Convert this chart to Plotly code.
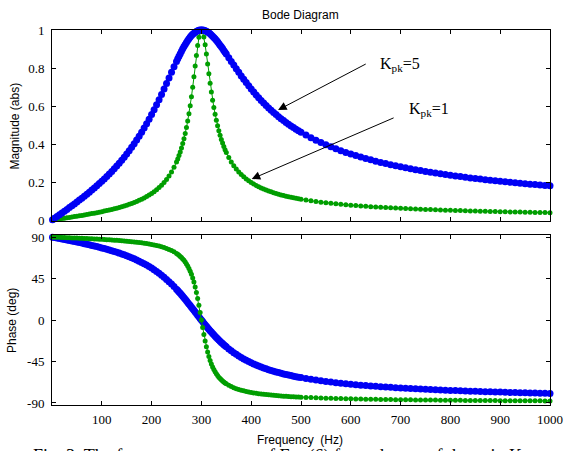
import plotly.graph_objects as go

# ---------------- data ----------------
freq_hz = [1, 5, 10, 15, 20, 25, 30, 35, 40, 45, 50, 55, 60, 65, 70, 75, 80, 85, 90, 95,
           100, 105, 110, 115, 120, 125, 130, 135, 140, 145, 150, 155, 160, 165, 170, 175,
           180, 185, 190, 195, 200, 205, 210, 215, 220, 225, 230, 235, 240, 245, 250,
           252.5, 255, 257.5, 260, 262.5, 265, 267.5, 270, 272.5, 275, 277.5, 280, 282.5,
           285, 287.5, 290, 292.5, 295, 297.5, 300, 302.5, 305, 307.5, 310, 312.5, 315,
           317.5, 320, 322.5, 325, 327.5, 330, 332.5, 335, 337.5, 340, 342.5, 345, 347.5, 350,
           355, 360, 365, 370, 375, 380, 385, 390, 395, 400, 405, 410, 415, 420, 425, 430,
           435, 440, 445, 450, 455, 460, 465, 470, 475, 480, 485, 490, 495, 500,
           510, 520, 530, 540, 550, 560, 570, 580, 590, 600, 610, 620, 630, 640, 650, 660,
           670, 680, 690, 700, 710, 720, 730, 740, 750, 760, 770, 780, 790, 800, 810, 820,
           830, 840, 850, 860, 870, 880, 890, 900, 910, 920, 930, 940, 950, 960, 970, 980,
           990, 1000]

mag_kpk5 = [0.0019, 0.0093, 0.0185, 0.0278, 0.0372, 0.0466, 0.0560, 0.0656, 0.0752, 0.0849,
            0.0948, 0.1048, 0.1150, 0.1253, 0.1358, 0.1466, 0.1575, 0.1687, 0.1802, 0.1919,
            0.2040, 0.2163, 0.2291, 0.2422, 0.2558, 0.2697, 0.2842, 0.2991, 0.3146, 0.3307,
            0.3473, 0.3646, 0.3826, 0.4013, 0.4207, 0.4409, 0.4619, 0.4838, 0.5066, 0.5302,
            0.5547, 0.5801, 0.6064, 0.6334, 0.6612, 0.6897, 0.7186, 0.7478, 0.7771, 0.8061,
            0.8346, 0.8485, 0.8622, 0.8754, 0.8883, 0.9008, 0.9127, 0.9241, 0.9348, 0.9448,
            0.9542, 0.9627, 0.9705, 0.9774, 0.9834, 0.9885, 0.9926, 0.9959, 0.9982, 0.9996,
            1.0000, 0.9996, 0.9982, 0.9961, 0.9931, 0.9894, 0.9849, 0.9798, 0.9740, 0.9677,
            0.9608, 0.9535, 0.9457, 0.9376, 0.9291, 0.9203, 0.9113, 0.9021, 0.8927, 0.8832,
            0.8736, 0.8541, 0.8346, 0.8152, 0.7960, 0.7771, 0.7586, 0.7406, 0.7231, 0.7061,
            0.6897, 0.6738, 0.6585, 0.6437, 0.6295, 0.6158, 0.6026, 0.5900, 0.5778, 0.5660,
            0.5547, 0.5438, 0.5333, 0.5232, 0.5135, 0.5041, 0.4951, 0.4864, 0.4779, 0.4698,
            0.4619, 0.4470, 0.4330, 0.4199, 0.4077, 0.3961, 0.3852, 0.3749, 0.3652, 0.3560,
            0.3473, 0.3391, 0.3312, 0.3237, 0.3166, 0.3098, 0.3033, 0.2971, 0.2912, 0.2855,
            0.2800, 0.2748, 0.2697, 0.2649, 0.2602, 0.2558, 0.2514, 0.2473, 0.2432, 0.2394,
            0.2356, 0.2320, 0.2285, 0.2251, 0.2218, 0.2186, 0.2155, 0.2125, 0.2095, 0.2067,
            0.2040, 0.2013, 0.1987, 0.1961, 0.1937, 0.1913, 0.1889, 0.1867, 0.1844, 0.1823,
            0.1802]

mag_kpk1 = [0.0004, 0.0020, 0.0039, 0.0059, 0.0079, 0.0099, 0.0119, 0.0139, 0.0160, 0.0181,
            0.0202, 0.0223, 0.0245, 0.0267, 0.0290, 0.0314, 0.0338, 0.0362, 0.0388, 0.0414,
            0.0441, 0.0469, 0.0498, 0.0528, 0.0559, 0.0592, 0.0626, 0.0662, 0.0700, 0.0740,
            0.0782, 0.0826, 0.0874, 0.0924, 0.0977, 0.1035, 0.1096, 0.1163, 0.1235, 0.1313,
            0.1398, 0.1491, 0.1594, 0.1708, 0.1835, 0.1977, 0.2138, 0.2320, 0.2529, 0.2772,
            0.3055, 0.3215, 0.3390, 0.3581, 0.3791, 0.4021, 0.4276, 0.4557, 0.4868, 0.5213,
            0.5596, 0.6019, 0.6485, 0.6992, 0.7536, 0.8101, 0.8664, 0.9185, 0.9615, 0.9900,
            1.0000, 0.9902, 0.9627, 0.9220, 0.8734, 0.8215, 0.7696, 0.7198, 0.6734, 0.6307,
            0.5918, 0.5565, 0.5246, 0.4958, 0.4697, 0.4460, 0.4244, 0.4048, 0.3869, 0.3704,
            0.3553, 0.3285, 0.3055, 0.2856, 0.2682, 0.2529, 0.2394, 0.2273, 0.2164, 0.2066,
            0.1977, 0.1896, 0.1822, 0.1754, 0.1691, 0.1633, 0.1579, 0.1529, 0.1482, 0.1439,
            0.1398, 0.1360, 0.1323, 0.1289, 0.1257, 0.1227, 0.1198, 0.1171, 0.1145, 0.1120,
            0.1096, 0.1052, 0.1012, 0.0975, 0.0941, 0.0910, 0.0881, 0.0853, 0.0828, 0.0804,
            0.0782, 0.0761, 0.0741, 0.0723, 0.0705, 0.0688, 0.0673, 0.0657, 0.0643, 0.0630,
            0.0617, 0.0604, 0.0592, 0.0581, 0.0570, 0.0559, 0.0549, 0.0540, 0.0530, 0.0521,
            0.0513, 0.0504, 0.0496, 0.0489, 0.0481, 0.0474, 0.0467, 0.0460, 0.0453, 0.0447,
            0.0441, 0.0435, 0.0429, 0.0423, 0.0418, 0.0412, 0.0407, 0.0402, 0.0397, 0.0392,
            0.0388]

phase_kpk5 = [89.89, 89.47, 88.94, 88.40, 87.87, 87.33, 86.79, 86.24, 85.69, 85.13,
              84.56, 83.98, 83.40, 82.80, 82.19, 81.57, 80.94, 80.29, 79.62, 78.94,
              78.23, 77.51, 76.76, 75.98, 75.18, 74.35, 73.49, 72.59, 71.66, 70.69,
              69.67, 68.62, 67.51, 66.34, 65.12, 63.84, 62.49, 61.07, 59.57, 57.98,
              56.31, 54.54, 52.67, 50.70, 48.61, 46.40, 44.06, 41.60, 39.01, 36.28,
              33.42, 31.95, 30.44, 28.90, 27.34, 25.74, 24.12, 22.47, 20.81, 19.12,
              17.41, 15.69, 13.96, 12.22, 10.47, 8.71, 6.96, 5.21, 3.46, 1.73,
              0.00, -1.71, -3.41, -5.08, -6.73, -8.36, -9.97, -11.54, -13.09, -14.61,
              -16.09, -17.54, -18.96, -20.35, -21.70, -23.03, -24.31, -25.56, -26.78, -27.97,
              -29.12, -31.34, -33.42, -35.40, -37.25, -39.01, -40.66, -42.22, -43.69, -45.08,
              -46.40, -47.64, -48.82, -49.93, -50.99, -51.99, -52.94, -53.85, -54.71, -55.53,
              -56.31, -57.06, -57.77, -58.45, -59.10, -59.73, -60.33, -60.90, -61.45, -61.98,
              -62.49, -63.45, -64.34, -65.17, -65.94, -66.67, -67.35, -67.98, -68.58, -69.14,
              -69.67, -70.18, -70.66, -71.11, -71.54, -71.95, -72.34, -72.72, -73.07, -73.41,
              -73.74, -74.05, -74.35, -74.64, -74.92, -75.18, -75.44, -75.68, -75.92, -76.15,
              -76.37, -76.59, -76.79, -76.99, -77.19, -77.38, -77.56, -77.73, -77.90, -78.07,
              -78.23, -78.39, -78.54, -78.69, -78.83, -78.97, -79.11, -79.24, -79.37, -79.50,
              -79.62]

phase_kpk1 = [89.98, 89.89, 89.78, 89.66, 89.55, 89.43, 89.32, 89.20, 89.09, 88.97,
              88.84, 88.72, 88.60, 88.47, 88.34, 88.20, 88.07, 87.92, 87.78, 87.63,
              87.47, 87.31, 87.15, 86.97, 86.79, 86.61, 86.41, 86.20, 85.99, 85.76,
              85.52, 85.26, 84.99, 84.70, 84.39, 84.06, 83.71, 83.32, 82.91, 82.46,
              81.96, 81.42, 80.83, 80.17, 79.43, 78.60, 77.66, 76.59, 75.35, 73.91,
              72.21, 71.24, 70.18, 69.01, 67.72, 66.29, 64.69, 62.89, 60.87, 58.58,
              55.97, 52.99, 49.57, 45.63, 41.10, 35.89, 29.96, 23.29, 15.95, 8.10,
              0.00, -8.03, -15.70, -22.77, -29.14, -34.77, -39.68, -43.96, -47.67, -50.90,
              -53.72, -56.18, -58.36, -60.28, -61.99, -63.51, -64.89, -66.12, -67.24, -68.26,
              -69.19, -70.82, -72.21, -73.40, -74.44, -75.35, -76.15, -76.86, -77.50, -78.08,
              -78.60, -79.07, -79.50, -79.90, -80.26, -80.60, -80.91, -81.20, -81.48, -81.73,
              -81.96, -82.19, -82.40, -82.59, -82.78, -82.95, -83.12, -83.28, -83.43, -83.57,
              -83.71, -83.96, -84.19, -84.40, -84.60, -84.78, -84.95, -85.11, -85.25, -85.39,
              -85.52, -85.64, -85.75, -85.86, -85.96, -86.05, -86.14, -86.23, -86.31, -86.39,
              -86.47, -86.54, -86.61, -86.67, -86.73, -86.79, -86.85, -86.91, -86.96, -87.01,
              -87.06, -87.11, -87.16, -87.20, -87.24, -87.28, -87.32, -87.36, -87.40, -87.44,
              -87.47, -87.51, -87.54, -87.57, -87.61, -87.64, -87.67, -87.70, -87.72, -87.75,
              -87.78]

freq_ticks = [100, 200, 300, 400, 500, 600, 700, 800, 900, 1000]
freq_tick_labels = ["100", "200", "300", "400", "500", "600", "700", "800", "900", "1000"]
mag_ticks = [0, 0.2, 0.4, 0.6, 0.8, 1]
mag_tick_labels = ["0", "0.2", "0.4", "0.6", "0.8", "1"]
phase_ticks = [-90, -45, 0, 45, 90]
phase_tick_labels = ["-90", "-45", "0", "45", "90"]

# ---------------- style ----------------
BLUE = "rgb(0,0,245)"
GREEN = "rgb(0,158,0)"
SERIF = "Liberation Serif, Times New Roman, serif"
SANS = "Liberation Sans, Arial, sans-serif"

fig = go.Figure()

# magnitude: green first, blue on top (the blue band covers the green apex)
fig.add_trace(go.Scatter(x=freq_hz, y=mag_kpk1, mode="lines+markers", xaxis="x", yaxis="y",
                         line=dict(color=GREEN, width=1), marker=dict(size=5, color=GREEN),
                         cliponaxis=False, hoverinfo="skip"))
fig.add_trace(go.Scatter(x=freq_hz, y=mag_kpk5, mode="lines+markers", xaxis="x", yaxis="y",
                         line=dict(color=BLUE, width=1), marker=dict(size=7, color=BLUE),
                         cliponaxis=False, hoverinfo="skip"))
# phase
fig.add_trace(go.Scatter(x=freq_hz, y=phase_kpk5, mode="lines+markers", xaxis="x2", yaxis="y2",
                         line=dict(color=BLUE, width=1), marker=dict(size=7, color=BLUE),
                         cliponaxis=False, hoverinfo="skip"))
fig.add_trace(go.Scatter(x=freq_hz, y=phase_kpk1, mode="lines+markers", xaxis="x2", yaxis="y2",
                         line=dict(color=GREEN, width=1), marker=dict(size=5, color=GREEN),
                         cliponaxis=False, hoverinfo="skip"))

axis_common = dict(showline=True, linecolor="black", linewidth=1, mirror="ticks",
                   ticks="inside", ticklen=4, tickcolor="black", tickwidth=1,
                   showgrid=False, zeroline=False, automargin=False,
                   tickfont=dict(family=SERIF, size=13, color="black"))

fig.update_layout(
    width=565, height=451,
    margin=dict(l=52, r=15, t=30, b=46),
    paper_bgcolor="white", plot_bgcolor="white",
    showlegend=False, hovermode=False,
    xaxis=dict(domain=[0, 1], anchor="y", range=[0, 1000], tickvals=freq_ticks,
               showticklabels=False, **axis_common),
    yaxis=dict(domain=[0.4907, 1], anchor="x", range=[-0.005, 1.0], tickvals=mag_ticks,
               ticktext=mag_tick_labels, ticklabelstandoff=4, **axis_common),
    xaxis2=dict(domain=[0, 1], anchor="y2", range=[0, 1000], tickvals=freq_ticks,
                ticktext=freq_tick_labels, ticklabelstandoff=2, **axis_common),
    yaxis2=dict(domain=[0, 0.4533], anchor="x2", range=[-92.2, 92.2], tickvals=phase_ticks,
                ticktext=phase_tick_labels, ticklabelstandoff=4, **axis_common),
)

ann = []
ann.append(dict(text="Bode Diagram", xref="paper", yref="paper", x=0.498, y=1.04,
                xanchor="center", yanchor="middle", showarrow=False,
                font=dict(family=SANS, size=12, color="black")))
ann.append(dict(text="Magnitude (abs)", xref="paper", yref="paper", x=-0.0743, y=0.7453,
                textangle=-90, xanchor="center", yanchor="middle", showarrow=False,
                font=dict(family=SANS, size=12, color="black")))
ann.append(dict(text="Phase (deg)", xref="paper", yref="paper", x=-0.0803, y=0.224,
                textangle=-90, xanchor="center", yanchor="middle", showarrow=False,
                font=dict(family=SANS, size=12, color="black")))
ann.append(dict(text="Frequency\u00a0 (Hz)", xref="paper", yref="paper", x=0.498, y=-0.0933,
                xanchor="center", yanchor="middle", showarrow=False,
                font=dict(family=SANS, size=12, color="black")))
ann.append(dict(text="Fig. 3. The frequency response of Eq. (6) for a change of the gain K<sub>pk</sub>",
                xref="paper", yref="paper", x=0.466, y=-0.105, xanchor="center", yanchor="top",
                showarrow=False, font=dict(family=SERIF, size=18, color="black")))

# curve labels
ann.append(dict(text="K<sub>pk</sub>=5", xref="x", yref="y", x=654, y=0.816,
                xanchor="left", yanchor="middle", showarrow=False,
                font=dict(family=SERIF, size=16, color="black")))
ann.append(dict(text="K<sub>pk</sub>=1", xref="x", yref="y", x=712, y=0.584,
                xanchor="left", yanchor="middle", showarrow=False,
                font=dict(family=SERIF, size=16, color="black")))
# arrows
ann.append(dict(text="", xref="x", yref="y", x=454, y=0.579, axref="x", ayref="y",
                ax=633, ay=0.825, showarrow=True, arrowhead=2, arrowsize=1.7,
                arrowwidth=1, arrowcolor="black"))
ann.append(dict(text="", xref="x", yref="y", x=401, y=0.216, axref="x", ayref="y",
                ax=689, ay=0.541, showarrow=True, arrowhead=2, arrowsize=1.7,
                arrowwidth=1, arrowcolor="black"))

fig.update_layout(annotations=ann)

fig.write_html("out.html", config={"displayModeBar": False},
               post_script="document.body.style.margin='0px';document.body.style.padding='0px';")
